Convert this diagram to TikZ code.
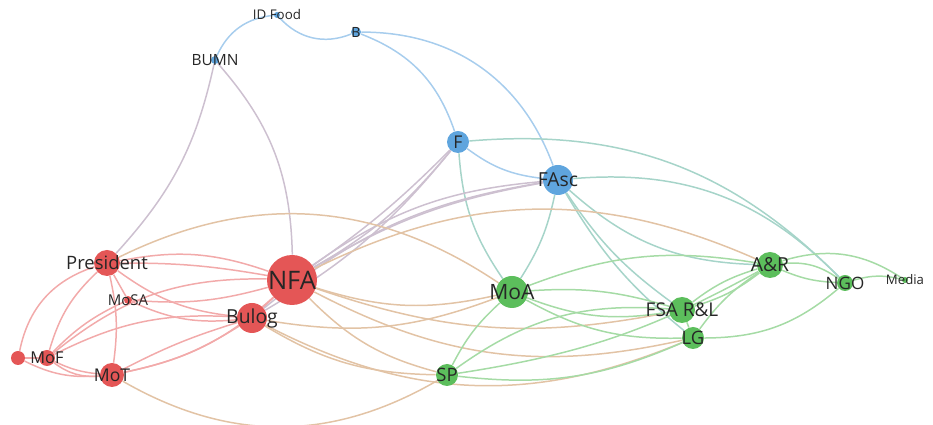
\documentclass[tikz,border=0pt]{standalone}
\usepackage{fontspec}
\setmainfont{Open Sans}
\usetikzlibrary{backgrounds}

\definecolor{vred}{RGB}{228,86,86}
\definecolor{vblue}{RGB}{95,165,222}
\definecolor{vgreen}{RGB}{92,190,92}
\colorlet{ered}{vred!50}
\colorlet{eblue}{vblue!55}
\colorlet{egreen}{vgreen!55}
\definecolor{erg}{RGB}{226,195,165}
\colorlet{erb}{vred!45!vblue!50}
\colorlet{ebg}{vblue!50!vgreen!55}

\begin{document}
\begin{tikzpicture}[
  x=0.02cm, y=0.02cm,
  vtx/.style={circle, inner sep=0pt, draw=none},
  rnode/.style={vtx, fill=vred},
  bnode/.style={vtx, fill=vblue},
  gnode/.style={vtx, fill=vgreen},
  lbl/.style={text=black!85, inner sep=0pt},
  ed/.style={line width=0.85pt},
  er/.style={ed, draw=ered},
  eb/.style={ed, draw=eblue},
  eg/.style={ed, draw=egreen},
  erg/.style={ed, draw=erg},
  erb/.style={ed, draw=erb},
  ebg/.style={ed, draw=ebg}
]
  \useasboundingbox (0,0) rectangle (933,425);

  % Cluster rojo
  \node[rnode, minimum size=1cm, label={[lbl, font=\fontsize{14.5}{16}\selectfont]center:NFA}] (nfa) at (292,145) {};
  \node[rnode, minimum size=0.6cm, label={[lbl, font=\fontsize{11}{13}\selectfont]center:Bulog}] (bulog) at (252,107) {};
  \node[rnode, minimum size=0.52cm, label={[lbl, font=\fontsize{10.5}{12}\selectfont]center:President}] (pres) at (107,162) {};
  \node[rnode, minimum size=0.16cm, label={[lbl, font=\fontsize{8.5}{10}\selectfont]center:MoSA}] (mosa) at (128,125) {};
  \node[rnode, minimum size=0.32cm, label={[lbl, font=\fontsize{9.3}{11}\selectfont]center:MoF}] (mof) at (47,67) {};
  \node[rnode, minimum size=0.28cm] (dot) at (18,67) {};
  \node[rnode, minimum size=0.48cm, label={[lbl, font=\fontsize{10}{12}\selectfont]center:MoT}] (mot) at (112,50) {};

  % Cluster azul
  \node[bnode, minimum size=0.12cm, label={[lbl, font=\fontsize{7.6}{9}\selectfont]center:ID Food}] (idfood) at (277,410) {};
  \node[bnode, minimum size=0.2cm, label={[lbl, font=\fontsize{8}{9}\selectfont]center:B}] (b) at (356,393) {};
  \node[bnode, minimum size=0.16cm, label={[lbl, font=\fontsize{8.8}{10}\selectfont]center:BUMN}] (bumn) at (215,365) {};
  \node[bnode, minimum size=0.44cm, label={[lbl, font=\fontsize{10}{12}\selectfont]center:F}] (f) at (458,283) {};
  \node[bnode, minimum size=0.6cm, label={[lbl, font=\fontsize{11}{13}\selectfont]center:FAsc}] (fasc) at (558,245) {};

  % Cluster verde
  \node[gnode, minimum size=0.64cm, label={[lbl, font=\fontsize{12}{14}\selectfont]center:MoA}] (moa) at (512,133) {};
  \node[gnode, minimum size=0.44cm, label={[lbl, font=\fontsize{10.5}{12}\selectfont]center:SP}] (sp) at (447,50) {};
  \node[gnode, minimum size=0.52cm, label={[lbl, font=\fontsize{11}{13}\selectfont]center:A\&R}] (ar) at (770,160) {};
  \node[gnode, minimum size=0.32cm, label={[lbl, font=\fontsize{9.7}{11}\selectfont]center:NGO}] (ngo) at (845,142) {};
  \node[gnode, minimum size=0.12cm, label={[lbl, font=\fontsize{7.5}{9}\selectfont]center:Media}] (media) at (905,145) {};
  \node[gnode, minimum size=0.52cm, label={[lbl, font=\fontsize{10.8}{12}\selectfont]center:FSA R\&L}] (fsa) at (682,115) {};
  \node[gnode, minimum size=0.44cm, label={[lbl, font=\fontsize{10.5}{12}\selectfont]center:LG}] (lg) at (693,87) {};

  \begin{scope}[on background layer]
  % Aristas rojas
  \draw[er] (pres) to[bend left=15] (nfa);
  \draw[er] (pres) to[bend left=5] (nfa);
  \draw[er] (pres) to[bend right=15] (bulog);
  \draw[er] (pres) -- (mosa);
  \draw[er] (pres) to[bend right=15] (mof);
  \draw[er] (pres) to[bend right=30] (dot);
  \draw[er] (pres) to[bend left=10] (mot);
  \draw[er] (mosa) to[bend right=10] (nfa);
  \draw[er] (mosa) to[bend right=15] (bulog);
  \draw[er] (mosa) to[bend right=10] (mof);
  \draw[er] (mof) to[bend right=10] (mot);
  \draw[er] (mof) to[bend right=20] (mot);
  \draw[er] (dot) to[bend right=15] (mot);
  \draw[er] (dot) -- (mof);
  \draw[er] (mof) to[bend left=15] (bulog);
  \draw[er] (mof) to[bend left=20] (nfa);
  \draw[er] (mot) to[bend right=10] (bulog);
  \draw[er] (mot) to[bend left=5] (bulog);
  \draw[er] (mot) to[bend right=15] (nfa);
  \draw[er] (nfa) -- (bulog);
  \draw[erg] (mot) to[bend right=30] (sp);

  % Aristas azules
  \draw[eb] (idfood) to[bend right=35] (b);
  \draw[eb] (bumn) to[bend left=30] (idfood);
  \draw[erb] (bumn) to[bend left=15] (pres);
  \draw[erb] (bumn) to[bend left=20] (nfa);
  \draw[eb] (b) to[bend left=25] (f);
  \draw[eb] (b) to[bend left=35] (fasc);
  \draw[eb] (f) to[bend right=15] (fasc);
  \draw[erb] (f) to[bend left=10] (nfa);
  \draw[erb] (f) to[bend left=5] (nfa);
  \draw[erb] (f) to[bend left=10] (bulog);
  \draw[ebg] (f) to[bend right=15] (moa);
  \draw[ebg] (f) to[bend left=25] (ngo);
  \draw[erb] (nfa) to[bend left=15] (fasc);
  \draw[erb] (nfa) to[bend left=10] (fasc);
  \draw[erb] (bulog) to[bend left=15] (fasc);
  \draw[ebg] (fasc) to[bend left=10] (moa);
  \draw[ebg] (fasc) to[bend right=10] (fsa);
  \draw[ebg] (fasc) to[bend right=10] (lg);
  \draw[ebg] (fasc) to[bend right=20] (ar);
  \draw[ebg] (fasc) to[bend left=25] (ngo);

  % Aristas entre rojo y verde
  \draw[erg] (pres) to[bend left=30] (moa);
  \draw[erg] (nfa) to[bend left=25] (ar);
  \draw[erg] (nfa) to[bend right=15] (moa);
  \draw[erg] (nfa) to[bend right=15] (sp);
  \draw[erg] (nfa) to[bend right=15] (fsa);
  \draw[erg] (nfa) to[bend right=20] (lg);
  \draw[erg] (bulog) to[bend right=15] (moa);
  \draw[erg] (bulog) to[bend right=15] (sp);
  \draw[erg] (bulog) to[bend right=25] (lg);

  % Aristas verdes
  \draw[eg] (moa) to[bend right=15] (fsa);
  \draw[eg] (moa) to[bend left=10] (fsa);
  \draw[eg] (moa) to[bend right=15] (lg);
  \draw[eg] (moa) to[bend left=15] (ar);
  \draw[eg] (moa) to[bend right=10] (sp);
  \draw[eg] (sp) to[bend left=20] (fsa);
  \draw[eg] (sp) to[bend right=15] (lg);
  \draw[eg] (sp) to[bend right=10] (ar);
  \draw[eg] (ar) to[bend left=20] (ngo);
  \draw[eg] (ar) to[bend right=10] (ngo);
  \draw[eg] (ar) to[bend left=25] (media);
  \draw[eg] (ngo) to[bend left=15] (media);
  \draw[eg] (ar) to[bend right=10] (fsa);
  \draw[eg] (ar) to[bend left=10] (fsa);
  \draw[eg] (ar) to[bend right=10] (lg);
  \draw[eg] (ngo) to[bend left=20] (lg);
  \draw[eg] (fsa) -- (lg);
  \end{scope}
\end{tikzpicture}
\end{document}
